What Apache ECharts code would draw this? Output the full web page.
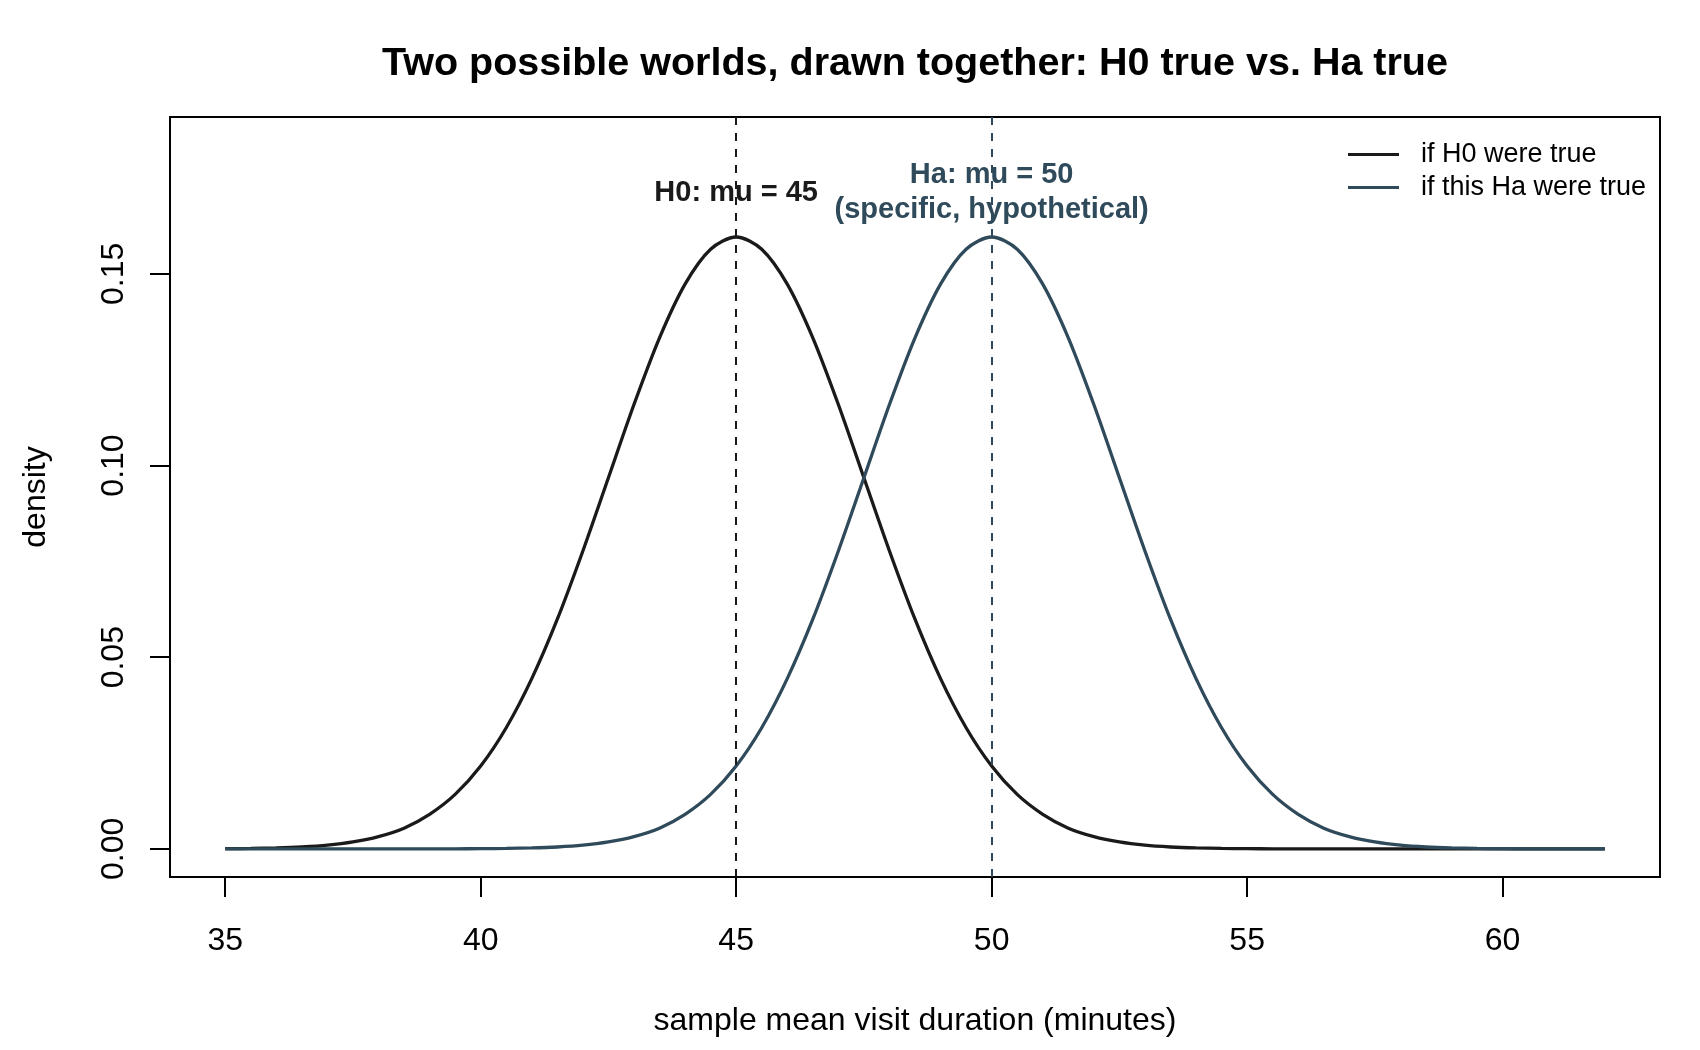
<!DOCTYPE html>
<html>
<head>
<meta charset="utf-8">
<script src="https://cdn.jsdelivr.net/npm/echarts@6/dist/echarts.min.js"></script>
<style>
html,body{margin:0;padding:0;background:#fff;}
#chart{width:1700px;height:1050px;}
</style>
</head>
<body>
<div id="chart"></div>
<script>
// ---- data ----
const xValues = [35,35.5,36,36.5,37,37.5,38,38.5,39,39.5,40,40.5,41,41.5,42,42.5,43,43.5,44,44.5,45,45.5,46,46.5,47,47.5,48,48.5,49,49.5,50,50.5,51,51.5,52,52.5,53,53.5,54,54.5,55,55.5,56,56.5,57,57.5,58,58.5,59,59.5,60,60.5,61,61.5,62];
const h0Density = [0.00005,0.00012,0.00024,0.00049,0.00095,0.0018,0.0032,0.0054,0.0090,0.0142,0.0216,0.0316,0.0444,0.0599,0.0777,0.0968,0.1159,0.1333,0.1473,0.1564,0.1596,0.1564,0.1473,0.1333,0.1159,0.0968,0.0777,0.0599,0.0444,0.0316,0.0216,0.0142,0.0090,0.0054,0.0032,0.0018,0.00095,0.00049,0.00024,0.00012,0.00005,0.00002,0.00001,0,0,0,0,0,0,0,0,0,0,0,0];
const haDensity = [0,0,0,0,0,0,0,0.000004,0.00001,0.00002,0.00005,0.00012,0.00024,0.00049,0.00095,0.0018,0.0032,0.0054,0.0090,0.0142,0.0216,0.0316,0.0444,0.0599,0.0777,0.0968,0.1159,0.1333,0.1473,0.1564,0.1596,0.1564,0.1473,0.1333,0.1159,0.0968,0.0777,0.0599,0.0444,0.0316,0.0216,0.0142,0.0090,0.0054,0.0032,0.0018,0.00095,0.00049,0.00024,0.00012,0.00005,0.00002,0.00001,0.000004,0.000002];
const xTicks = [35,40,45,50,55,60];
const yTicks = [0,0.05,0.10,0.15];
const muH0 = 45;
const muHa = 50;
const labelY = 0.1712;
const seriesNames = ['if H0 were true','if this Ha were true'];
const titleText = 'Two possible worlds, drawn together: H0 true vs. Ha true';
const xName = 'sample mean visit duration (minutes)';
const yName = 'density';
const h0Label = 'H0: mu = 45';
const haLabel = 'Ha: mu = 50\n(specific, hypothetical)';

const colH0 = '#1a1a1a';
const colHa = '#2f4a5a';
const FONT = 'Liberation Sans, Arial, Helvetica, sans-serif';

const h0Data = xValues.map((x,i)=>[x,h0Density[i]]);
const haData = xValues.map((x,i)=>[x,haDensity[i]]);

const chart = echarts.init(document.getElementById('chart'), null, {renderer:'canvas'});
chart.setOption({
  animation:false,
  backgroundColor:'#fff',
  textStyle:{fontFamily:FONT},
  title:{
    text:titleText, left:910, top:39, textAlign:'center',
    textStyle:{fontFamily:FONT, fontWeight:'bold', fontSize:39.5, color:'#000'}
  },
  grid:{left:170, right:40, top:117, bottom:173, show:true, borderColor:'#000', borderWidth:2, backgroundColor:'transparent'},
  legend:{
    orient:'vertical', left:1348, top:141, itemWidth:51, itemHeight:3, itemGap:6, padding:0,
    icon:'rect', data:seriesNames,
    textStyle:{fontFamily:FONT, fontSize:27, color:'#000', padding:[0,0,0,17]}
  },
  xAxis:{
    type:'value', min:33.92, max:63.08,
    name:xName, nameLocation:'middle', nameGap:128,
    nameTextStyle:{fontFamily:FONT, fontSize:32, color:'#000'},
    axisLine:{show:false, onZero:false},
    axisTick:{show:true, inside:false, length:20, customValues:xTicks, lineStyle:{color:'#000', width:2}},
    axisLabel:{show:true, customValues:xTicks, margin:48, fontSize:32, color:'#000', fontFamily:FONT},
    splitLine:{show:false}
  },
  yAxis:{
    type:'value', min:-0.00734, max:0.1909,
    name:yName, nameLocation:'middle', nameGap:118,
    nameTextStyle:{fontFamily:FONT, fontSize:32, color:'#000'},
    axisLine:{show:false, onZero:false},
    axisTick:{show:true, inside:false, length:20, customValues:yTicks, lineStyle:{color:'#000', width:2}},
    axisLabel:{show:true, customValues:yTicks, margin:40, rotate:90, fontSize:32, color:'#000', fontFamily:FONT,
      formatter:v=>v.toFixed(2)},
    splitLine:{show:false}
  },
  series:[
    {
      name:seriesNames[0], type:'line', data:h0Data, showSymbol:false, smooth:0.3,
      lineStyle:{color:colH0, width:3.3}, itemStyle:{color:colH0}, z:3,
      markLine:{silent:true, symbol:['none','none'], label:{show:false},
        lineStyle:{color:colH0, width:2, type:[8,8]}, data:[{xAxis:muH0}]}
    },
    {
      name:seriesNames[1], type:'line', data:haData, showSymbol:false, smooth:0.3,
      lineStyle:{color:colHa, width:3.3}, itemStyle:{color:colHa}, z:4,
      markLine:{silent:true, symbol:['none','none'], label:{show:false},
        lineStyle:{color:colHa, width:2, type:[8,8]}, data:[{xAxis:muHa}]}
    },
    {
      type:'scatter', silent:true, symbolSize:1, itemStyle:{color:'rgba(0,0,0,0)'}, z:10,
      data:[[muH0,labelY]],
      label:{show:true, position:'inside', formatter:h0Label, fontFamily:FONT, fontWeight:'bold', fontSize:29,
        color:colH0, opacity:1, textBorderWidth:0}
    },
    {
      type:'scatter', silent:true, symbolSize:1, itemStyle:{color:'rgba(0,0,0,0)'}, z:10,
      data:[[muHa,labelY]],
      label:{show:true, position:'inside', formatter:haLabel, fontFamily:FONT, fontWeight:'bold', fontSize:29, lineHeight:35,
        align:'center', color:colHa, opacity:1, textBorderWidth:0}
    }
  ]
});
</script>
</body>
</html>
